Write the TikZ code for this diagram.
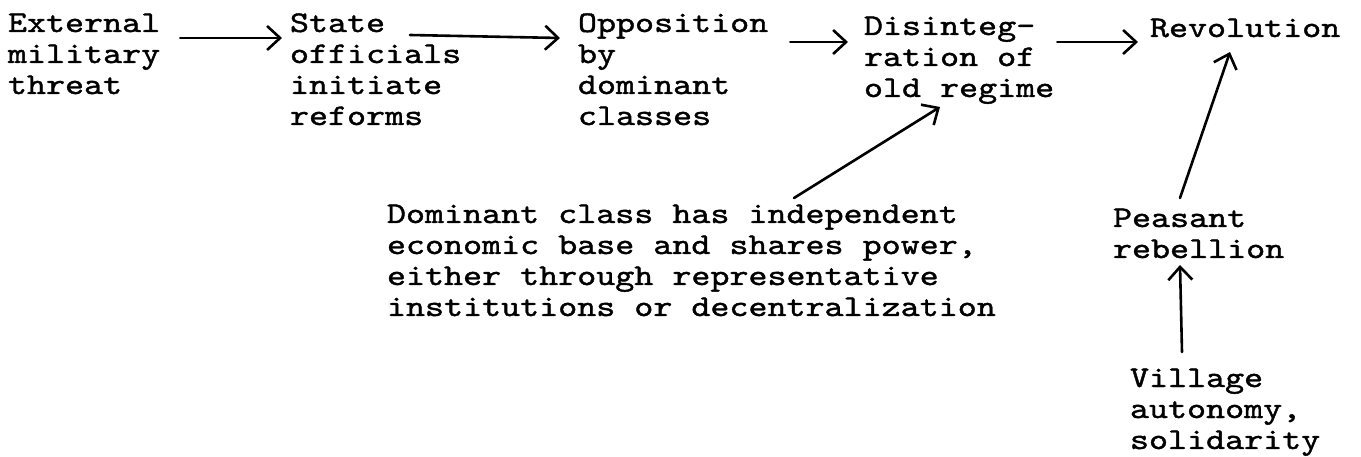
\documentclass[tikz,border=0pt]{standalone}
\usepackage{fontspec}
\newfontfamily\tw{lmmono10-regular.otf}[FakeStretch=1.208,FakeBold=1.3]
\usetikzlibrary{arrows.meta}
\newcommand\blk[1]{\begin{tabular}[t]{@{}l@{}}#1\end{tabular}}
\begin{document}
\begin{tikzpicture}[x=1pt,y=-1pt,
  txt/.style={anchor=base west, inner sep=0pt, outer sep=0pt, font={\tw\fontsize{30pt}{31pt}\selectfont}},
  arr/.style={line width=2.6pt, line cap=round, -{Straight Barb[length=13pt,width=24pt,line width=2.6pt]}}]
\useasboundingbox[fill=white] (0,0) rectangle (1361,457);

\node[txt] (ext) at (8,32) {\blk{External\\military\\threat}};
\node[txt] (state) at (290,32) {\blk{State\\officials\\initiate\\reforms}};
\node[txt] (opp) at (578,32) {\blk{Opposition\\by\\dominant\\classes}};
\node[txt] (dis) at (864,35) {\blk{Disinteg-\\ration of\\old regime}};
\node[txt] (rev) at (1150,37) {Revolution};
\node[txt] (dom) at (387,223) {\blk{Dominant class has independent\\economic base and shares power,\\either through representative\\institutions or decentralization}};
\node[txt] (pea) at (1113,227) {\blk{Peasant\\rebellion}};
\node[txt] (vil) at (1130,387) {\blk{Village\\autonomy,\\solidarity}};

\draw[arr] ([xshift=20pt,yshift=-6pt]ext.base east) -- ([xshift=-8pt,yshift=-6pt]state.base west);
\draw[arr] ([xshift=120pt,yshift=-3pt]state.base west) -- ([xshift=-18pt,yshift=-6pt]opp.base west);
\draw[arr] ([xshift=22pt,yshift=-10pt]opp.base east) -- ([xshift=-16pt,yshift=-7pt]dis.base west);
\draw[arr] ([xshift=3pt,yshift=-7pt]dis.base east) -- ([xshift=-12pt,yshift=-5pt]rev.base west);
\draw[arr] ([xshift=407pt,yshift=25pt]dom.base west) -- ([xshift=76pt,yshift=-72pt]dis.base west);
\draw[arr] ([xshift=67pt,yshift=29pt]pea.base west) -- ([xshift=80pt,yshift=-15pt]rev.base west);
\draw[arr] ([xshift=52pt,yshift=35pt]vil.base west) -- ([xshift=67pt,yshift=-38pt]pea.base west);
\end{tikzpicture}
\end{document}
